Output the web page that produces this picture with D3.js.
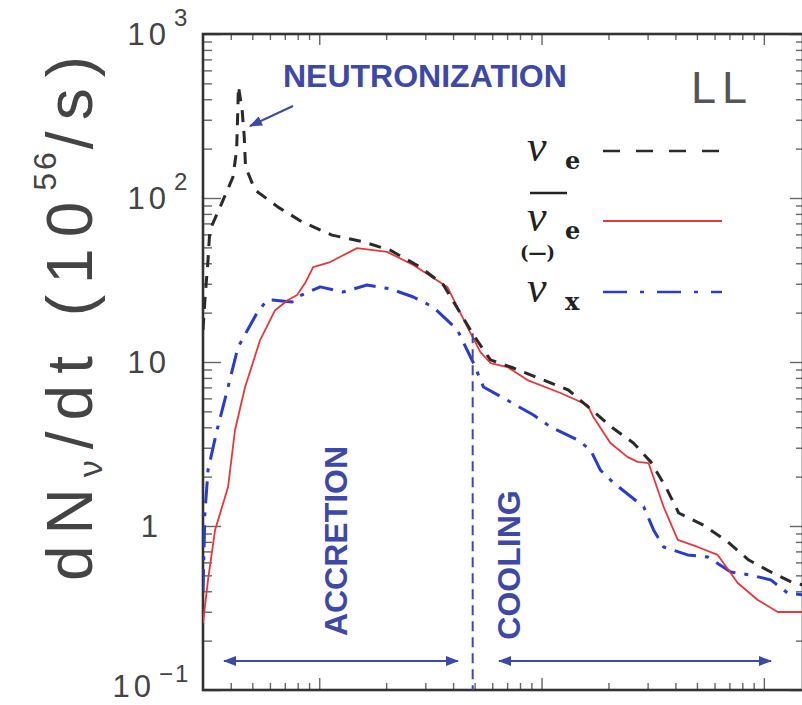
<!DOCTYPE html>
<html>
<head>
<meta charset="utf-8">
<script src="https://cdn.jsdelivr.net/npm/d3@7"></script>
<style>
  body { margin: 0; background: #fff; }
  svg { display: block; }
</style>
</head>
<body>
<svg id="chart" width="802" height="705"></svg>
<script>
// time after bounce (s) and rate dN/dt (10^56 / s)
const tNuE = [0.030, 0.0306, 0.0316, 0.0322, 0.0358, 0.0409, 0.0425, 0.0429, 0.0433, 0.0450, 0.0460, 0.0466,
  0.0514, 0.0653, 0.0838, 0.114, 0.158, 0.209, 0.285, 0.362, 0.494, 0.589, 0.747, 1.32, 2.09, 2.59, 3.10,
  3.62, 4.14, 5.36, 6.88, 8.55, 10.97, 13.6, 15];
const nuE = [15.7, 23.9, 41.9, 63.8, 88, 134, 196, 299, 480, 344, 235, 155,
  112, 88, 71.5, 59.4, 54, 48, 37.9, 29.5, 14.6, 10.3, 9.19, 6.75, 3.96, 3.21, 2.46,
  1.73, 1.20, 1.01, 0.80, 0.62, 0.517, 0.449, 0.437];

const tNuEbar = [0.030, 0.0316, 0.0340, 0.0389, 0.0418, 0.0464, 0.0542, 0.0633, 0.0724, 0.0795, 0.0864, 0.0939,
  0.112, 0.148, 0.202, 0.265, 0.377, 0.464, 0.531, 0.589, 0.702, 0.864, 1.217, 1.61, 1.71, 2.04, 2.44, 2.71,
  3.03, 3.54, 4.10, 5.04, 6.20, 7.63, 9.39, 11.55, 15];
const nuEbar = [0.256, 0.469, 0.946, 1.73, 3.85, 7.04, 13.6, 20.7, 23.9, 25.6, 30.3, 37.9,
  40.7, 49.5, 46.9, 39.0, 28.7, 16.3, 11.5, 9.86, 9.32, 7.76, 6.47, 5.47, 4.62, 3.21, 2.63, 2.46,
  2.42, 1.31, 0.822, 0.745, 0.666, 0.449, 0.354, 0.299, 0.299];

const tNuX = [0.030, 0.0306, 0.0316, 0.0347, 0.0389, 0.0431, 0.0525, 0.0583, 0.0614, 0.0755, 0.0795, 0.101,
  0.128, 0.164, 0.209, 0.265, 0.326, 0.418, 0.494, 0.548, 0.725, 0.920, 1.10, 1.45, 1.66, 1.84, 2.11,
  2.88, 3.19, 3.54, 4.54, 5.59, 7.10, 8.73, 10.75, 12.8, 15];
const nuX = [0.40, 1.20, 2.19, 3.85, 7.04, 12.3, 19.9, 23.9, 23.9, 23.2, 24.9, 28.7,
  26.7, 29.5, 27.9, 24.9, 21.6, 15.7, 9.86, 7.04, 5.70, 4.75, 4.01, 3.35, 2.91, 2.19, 1.83,
  1.31, 0.946, 0.745, 0.666, 0.647, 0.524, 0.502, 0.469, 0.390, 0.380];

const yMajor = [0.1, 1, 10, 100, 1000];
const yLabels = [["10", "\u22121"], ["1", ""], ["10", ""], ["10", "2"], ["10", "3"]];
const xMajor = [0.1, 1, 10];
const tSplit = 0.49;   // end of accretion

const svg = d3.select("#chart");
const mLeft = 203, mRight = 803, mTop = 34, mBottom = 690;

const x = d3.scaleLog().domain([0.03, 15]).range([mLeft, mRight]);
const y = d3.scaleLog().domain([0.1, 1000]).range([mBottom, mTop]);

const minors = (lo, hi) => {
  const out = [];
  for (let e = -2; e <= 2; e++)
    for (let m = 2; m <= 9; m++) {
      const v = m * Math.pow(10, e);
      if (v > lo * 1.0001 && v < hi * 0.9999) out.push(v);
    }
  return out;
};
const yMinor = minors(0.1, 1000);
const xMinor = minors(0.03, 15);

const ink = "#444";
const sans = "Liberation Sans, Arial, sans-serif";

// ticks, all pointing inward
function ticks(axis, tr, vals, size) {
  svg.append("g")
    .attr("transform", tr)
    .call(axis.tickValues(vals).tickSize(size).tickSizeOuter(0).tickFormat(""))
    .call(g => g.select(".domain").remove())
    .call(g => g.selectAll("line").attr("stroke", "#666").attr("stroke-width", 1.4));
}
ticks(d3.axisLeft(y), `translate(${mLeft},0)`, yMajor, -18);
ticks(d3.axisLeft(y), `translate(${mLeft},0)`, yMinor, -9);
ticks(d3.axisRight(y), `translate(${mRight},0)`, yMajor, -13);
ticks(d3.axisRight(y), `translate(${mRight},0)`, yMinor, -7);
ticks(d3.axisTop(x), `translate(0,${mTop})`, xMajor, -11);
ticks(d3.axisTop(x), `translate(0,${mTop})`, xMinor, -6);
ticks(d3.axisBottom(x), `translate(0,${mBottom})`, xMajor, -12);
ticks(d3.axisBottom(x), `translate(0,${mBottom})`, xMinor, -7);

// frame
svg.append("rect")
  .attr("x", mLeft).attr("y", mTop)
  .attr("width", mRight - mLeft).attr("height", mBottom - mTop)
  .attr("fill", "none").attr("stroke", "#333").attr("stroke-width", 2.6);

// y tick labels
const labX = { "10\u22121": 155, "1": 162, "10": 170, "102": 170, "103": 170 };
yMajor.forEach((v, i) => {
  const [base, sup] = yLabels[i];
  const lx = labX[base + sup];
  svg.append("text")
    .attr("x", lx).attr("y", Math.min(y(v) + 11, 697))
    .attr("text-anchor", "end")
    .attr("font-family", sans).attr("font-size", 31)
    .attr("letter-spacing", 4).attr("fill", ink)
    .text(base);
  if (sup) {
    svg.append("text")
      .attr("x", lx + 4).attr("y", y(v) - 8)
      .attr("font-family", sans).attr("font-size", 24)
      .attr("letter-spacing", 2).attr("fill", ink)
      .text(sup);
  }
});

// y axis title
const yt = svg.append("text")
  .attr("transform", "translate(92,313) rotate(-90)")
  .attr("text-anchor", "middle")
  .attr("font-family", sans)
  .attr("font-size", 64).attr("fill", ink)
  .attr("letter-spacing", 11);
yt.append("tspan").text("dN");
yt.append("tspan").attr("font-size", 34).attr("dy", 10).text("\u03bd");
yt.append("tspan").attr("dy", -10).text("/dt (10");
yt.append("tspan").attr("font-size", 32).attr("dy", -36).attr("letter-spacing", 3).text("56");
yt.append("tspan").attr("dy", 36).text("/s)");

// curves
svg.append("clipPath").attr("id", "plot")
  .append("rect").attr("x", mLeft).attr("y", mTop)
  .attr("width", mRight - mLeft).attr("height", mBottom - mTop);

const line = d3.line().x(d => x(d[0])).y(d => y(d[1]));
const plot = svg.append("g").attr("clip-path", "url(#plot)");

const series = [
  { t: tNuX, v: nuX, color: "#2a3ccc", width: 3, dash: "22,9,4,9" },
  { t: tNuEbar, v: nuEbar, color: "#e8363a", width: 1.8, dash: null },
  { t: tNuE, v: nuE, color: "#2a2a2a", width: 3, dash: "12,9" }
];
series.forEach(s => {
  plot.append("path")
    .datum(d3.zip(s.t, s.v))
    .attr("d", line)
    .attr("fill", "none")
    .attr("stroke", s.color)
    .attr("stroke-width", s.width)
    .attr("stroke-linejoin", "round")
    .attr("stroke-dasharray", s.dash);
});

// annotations
const blue = "#3d48a8";
const defs = svg.append("defs");
defs.append("marker").attr("id", "head")
  .attr("viewBox", "0 0 13 10").attr("refX", 12).attr("refY", 5)
  .attr("markerWidth", 13).attr("markerHeight", 10)
  .attr("markerUnits", "userSpaceOnUse").attr("orient", "auto-start-reverse")
  .append("path").attr("d", "M0,0L13,5L0,10Z").attr("fill", blue);

svg.append("line")
  .attr("x1", x(tSplit)).attr("x2", x(tSplit))
  .attr("y1", y(nuEbar[17]) + 6).attr("y2", mBottom)
  .attr("stroke", blue).attr("stroke-width", 2).attr("stroke-dasharray", "10,6");

const bold = { "font-family": sans, "font-weight": "bold", "font-size": 32, fill: blue };
function label(txt, tr) {
  const t = svg.append("text").attr("transform", tr).text(txt);
  Object.entries(bold).forEach(([k, v]) => t.attr(k, v));
  return t;
}
label("NEUTRONIZATION", "translate(283,87)");
label("ACCRETION", "translate(347,541) rotate(-90)").attr("text-anchor", "middle");
label("COOLING", "translate(520,565) rotate(-90)").attr("text-anchor", "middle");

const arrow = (x1, y1, x2, y2, both) => svg.append("line")
  .attr("x1", x1).attr("y1", y1).attr("x2", x2).attr("y2", y2)
  .attr("stroke", blue).attr("stroke-width", 2.2)
  .attr("marker-end", "url(#head)")
  .attr("marker-start", both ? "url(#head)" : null);
arrow(293, 106, 250, 126, false);
arrow(224, 661, 458, 661, true);
arrow(499, 661, 771, 661, true);

// model tag
svg.append("text").attr("x", 691).attr("y", 103)
  .attr("font-family", sans)
  .attr("font-size", 45).attr("fill", "#555").attr("letter-spacing", 6).text("LL");

// legend
const serif = "Liberation Serif, Times New Roman, serif";
const legY = [151, 221, 292];
const legSub = ["e", "e", "x"];
legY.forEach((ly, i) => {
  const s = series[2 - i];
  svg.append("line").attr("x1", 603).attr("x2", 722).attr("y1", ly).attr("y2", ly)
    .attr("stroke", s.color).attr("stroke-width", s.width === 3 ? 2.6 : 2)
    .attr("stroke-dasharray", i === 0 ? "17,16" : i === 2 ? "24,13,4,13" : null);
  svg.append("text").attr("x", 527).attr("y", ly + 10)
    .attr("font-family", serif).attr("font-style", "italic")
    .attr("font-size", 44).attr("fill", "#222").text("\u03bd");
  svg.append("text").attr("x", 565).attr("y", ly + 18)
    .attr("font-family", "DejaVu Serif, serif").attr("font-weight", "bold")
    .attr("font-size", 24).attr("fill", "#222").text(legSub[i]);
});
svg.append("line").attr("x1", 530).attr("x2", 567).attr("y1", 193).attr("y2", 193)
  .attr("stroke", "#222").attr("stroke-width", 2.5);
svg.append("text").attr("x", 520).attr("y", 259)
  .attr("font-family", "DejaVu Serif, serif").attr("font-weight", "bold")
  .attr("font-size", 18).attr("fill", "#222").text("(\u2014)");
</script>
</body>
</html>
